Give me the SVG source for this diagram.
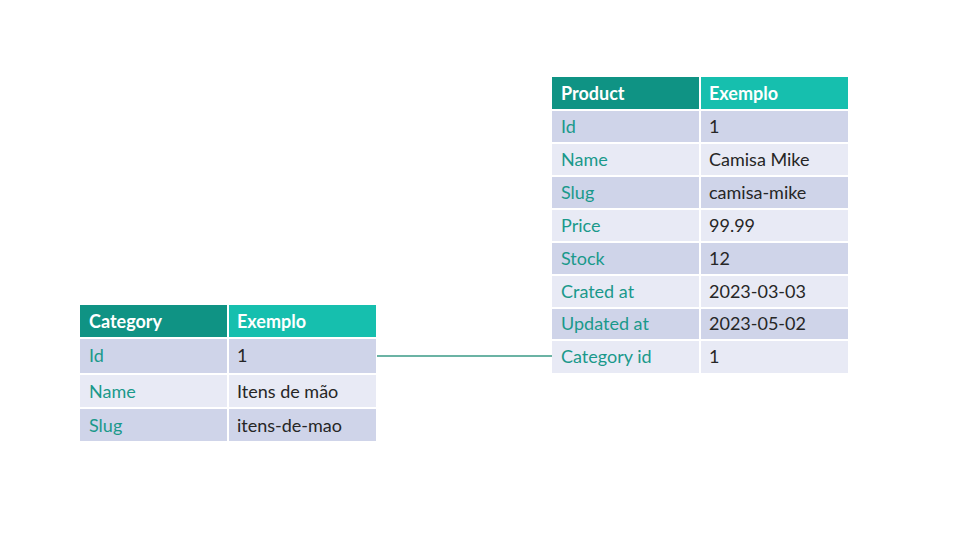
<svg xmlns="http://www.w3.org/2000/svg" width="960" height="536" viewBox="0 0 960 536">
<style>
.hl{fill:#0f9384}
.hr{fill:#16bfae}
.r1{fill:#cfd4e9}
.r2{fill:#e8eaf5}
.ht{font-family:Lato,"Liberation Sans",sans-serif;font-size:18px;font-weight:bold;fill:#ffffff}
.k{font-family:Lato,"Liberation Sans",sans-serif;font-size:18px;fill:#1a998b}
.v{font-family:Lato,"Liberation Sans",sans-serif;font-size:18px;fill:#262626}
.sep{stroke:#ffffff;stroke-width:2}
</style>
<rect width="960" height="536" fill="#ffffff"/>
<g id="connectors">
<line x1="377" y1="356" x2="553" y2="356" stroke="#3a9a86" stroke-width="1.5"/>
</g>
<g id="product">
<rect class="hl" x="552" y="77" width="148" height="33"/>
<rect class="hr" x="700" y="77" width="148" height="33"/>
<rect class="r1" x="552" y="110" width="296" height="33"/>
<rect class="r2" x="552" y="143" width="296" height="33"/>
<rect class="r1" x="552" y="176" width="296" height="33"/>
<rect class="r2" x="552" y="209" width="296" height="33"/>
<rect class="r1" x="552" y="242" width="296" height="33"/>
<rect class="r2" x="552" y="275" width="296" height="33"/>
<rect class="r1" x="552" y="308" width="296" height="32"/>
<rect class="r2" x="552" y="340" width="296" height="33"/>
<g class="sep">
<line x1="700" y1="77" x2="700" y2="373"/>
<line x1="552" y1="110" x2="848" y2="110"/>
<line x1="552" y1="143" x2="848" y2="143"/>
<line x1="552" y1="176" x2="848" y2="176"/>
<line x1="552" y1="209" x2="848" y2="209"/>
<line x1="552" y1="242" x2="848" y2="242"/>
<line x1="552" y1="275" x2="848" y2="275"/>
<line x1="552" y1="308" x2="848" y2="308"/>
<line x1="552" y1="340" x2="848" y2="340"/>
</g>
<text class="ht" x="561" y="100">Product</text>
<text class="ht" x="709" y="100">Exemplo</text>
<text class="k" x="561" y="133">Id</text><text class="v" x="709" y="133">1</text>
<text class="k" x="561" y="166">Name</text><text class="v" x="709" y="166">Camisa Mike</text>
<text class="k" x="561" y="199">Slug</text><text class="v" x="709" y="199">camisa-mike</text>
<text class="k" x="561" y="232">Price</text><text class="v" x="709" y="232">99.99</text>
<text class="k" x="561" y="265">Stock</text><text class="v" x="709" y="265">12</text>
<text class="k" x="561" y="298">Crated at</text><text class="v" x="709" y="298">2023-03-03</text>
<text class="k" x="561" y="330">Updated at</text><text class="v" x="709" y="330">2023-05-02</text>
<text class="k" x="561" y="363">Category id</text><text class="v" x="709" y="363">1</text>
</g>
<g id="category">
<rect class="hl" x="80" y="305" width="148" height="33"/>
<rect class="hr" x="228" y="305" width="148" height="33"/>
<rect class="r1" x="80" y="338" width="296" height="36"/>
<rect class="r2" x="80" y="374" width="296" height="34"/>
<rect class="r1" x="80" y="408" width="296" height="33"/>
<g class="sep">
<line x1="228" y1="305" x2="228" y2="441"/>
<line x1="80" y1="338" x2="376" y2="338"/>
<line x1="80" y1="374" x2="376" y2="374"/>
<line x1="80" y1="408" x2="376" y2="408"/>
</g>
<text class="ht" x="89" y="328">Category</text>
<text class="ht" x="237" y="328">Exemplo</text>
<text class="k" x="89" y="362">Id</text><text class="v" x="237" y="362">1</text>
<text class="k" x="89" y="398">Name</text><text class="v" x="237" y="398">Itens de mão</text>
<text class="k" x="89" y="432">Slug</text><text class="v" x="237" y="432">itens-de-mao</text>
</g>
</svg>
